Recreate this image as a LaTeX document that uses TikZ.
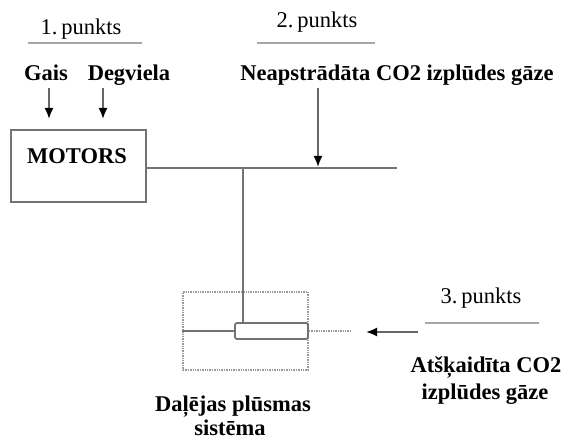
\documentclass[tikz,border=0pt]{standalone}
\usepackage{fontspec}
\setmainfont{Liberation Serif}
\usetikzlibrary{arrows.meta}
\begin{document}
\begin{tikzpicture}[x=1pt,y=-1pt,
  lbl/.style={inner sep=0pt,anchor=base,font=\fontsize{22.5}{25}\selectfont},
  blbl/.style={inner sep=0pt,anchor=base,font=\fontsize{22.5}{25}\selectfont\bfseries},
  pipe/.style={draw=black!55,line width=1.8pt},
  uline/.style={draw=black!35,line width=1.4pt},
  xline/.style={draw=black!40,line width=1.4pt,densely dotted},
  flow/.style={draw=black!60,line width=1.8pt,-{Latex[black,length=11pt,width=9pt]}},
  boxst/.style={draw=black!55,line width=1.8pt,inner sep=0pt}]
\useasboundingbox (0,0) rectangle (563,441);
% point 1
\node[lbl] (p1) at (81,35) {1.\,punkts};
\coordinate (u1a) at (28,43); \coordinate (u1b) at (142,43);
\draw[uline] (u1a) -- (u1b);
\node[blbl] (gais) at (46,81) {Gais};
\node[blbl] (degv) at (129,81) {Degviela};
\coordinate (ga) at (49,88); \coordinate (gb) at (49,119);
\coordinate (da) at (103,88); \coordinate (db) at (103,119);
\draw[flow] (ga) -- (gb);
\draw[flow] (da) -- (db);
% motor
\node[boxst,minimum width=135pt,minimum height=72pt] (motor) at (78.5,166) {};
\node[blbl] (mtxt) at (77,164) {MOTORS};
% main pipe
\coordinate (mout) at (146,168);
\coordinate (junc) at (243,168);
\coordinate (hend) at (397,168);
\draw[pipe] (mout) -- (hend);
% point 2
\node[lbl] (p2) at (317,28) {2.\,punkts};
\coordinate (u2a) at (257,43); \coordinate (u2b) at (375,43);
\draw[uline] (u2a) -- (u2b);
\node[blbl] (raw) at (397,81) {Neapstrādāta CO2 izplūdes gāze};
\coordinate (ra) at (318,88); \coordinate (rb) at (318,167);
\draw[flow] (ra) -- (rb);
% partial flow system
\node[draw=black!40,line width=1.4pt,densely dotted,minimum width=125pt,minimum height=78pt,inner sep=0pt] (pfs) at (245.5,331) {};
\node[boxst,rounded corners=2pt,minimum width=73pt,minimum height=16pt] (inner) at (271.5,331) {};
\draw[pipe] (junc) -- (junc |- inner.north);
\draw[pipe] (pfs.west) -- (inner.west);
\coordinate (xr) at (350,331);
\draw[xline] (inner.east) -- (xr);
\coordinate (da3) at (418,332); \coordinate (db3) at (366,332);
\draw[flow] (da3) -- (db3);
% point 3
\node[lbl] (p3) at (481,304) {3.\,punkts};
\coordinate (u3a) at (425,323); \coordinate (u3b) at (539,323);
\draw[uline] (u3a) -- (u3b);
\node[blbl] (dil1) at (486,372) {Atšķaidīta CO2};
\node[blbl] (dil2) at (485,399) {izplūdes gāze};
\node[blbl] (sys1) at (233,411) {Daļējas plūsmas};
\node[blbl] (sys2) at (230,435) {sistēma};
\end{tikzpicture}
\end{document}
